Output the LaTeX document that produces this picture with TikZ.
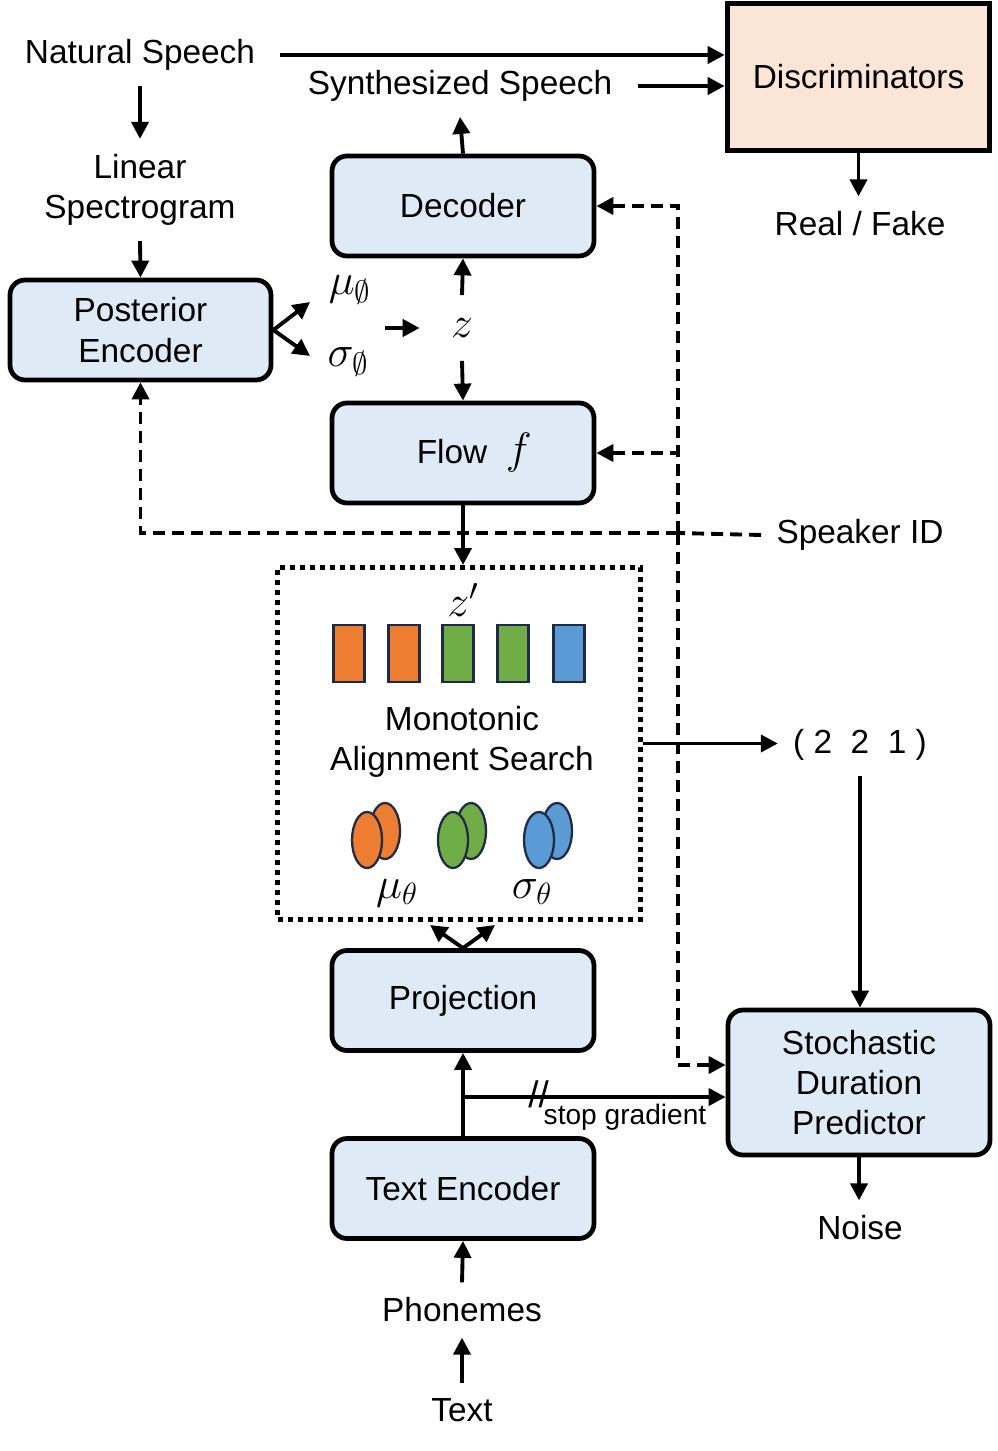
\RequirePackage{fix-cm}
\documentclass[tikz,border=0pt]{standalone}
\usepackage{amsmath,amssymb}
\usepackage{fontspec}
\setmainfont{Liberation Sans}
\usetikzlibrary{
	arrows.meta,
	calc,
	positioning,
}
\definecolor{boxblue}{HTML}{DEEBF7}
\definecolor{peach}{HTML}{FBE5D6}
\definecolor{barorange}{HTML}{ED7D31}
\definecolor{bargreen}{HTML}{70AD47}
\definecolor{barblue}{HTML}{5B9BD5}
\definecolor{barline}{HTML}{1F2A44}
\newcommand{\lbfont}{\fontsize{19}{23}\selectfont}
\newcommand{\mathfont}{\fontsize{25}{29}\selectfont}
\tikzset{
	block/.style={draw, rounded corners=0.3cm, fill=boxblue, line width=2.7pt,
		minimum width=5.24cm, minimum height=2cm, align=center, font=\lbfont},
	lbl/.style={inner sep=0.3cm, align=center, font=\lbfont},
	sym/.style={inner sep=0.3cm, font=\mathfont},
	arr/.style={-{Triangle[length=0.34cm,width=0.34cm]}, line width=2.2pt},
	darr/.style={arr, dash pattern=on 0.24cm off 0.14cm},
	dline/.style={line width=2.2pt, dash pattern=on 0.24cm off 0.14cm},
	bar/.style={draw=barline, line width=1.3pt},
}

\begin{document}
\begin{tikzpicture}
\useasboundingbox (0,0) rectangle (19.94,-29.02);

% blocks
\node(disc)[block, rounded corners=0, fill=peach, line width=3.2pt, minimum height=2.94cm] at (17.17,-1.54) {Discriminators};
\node(dec)[block] at (9.26,-4.12) {Decoder};
\node(post)[block, minimum width=5.22cm] at (2.81,-6.6) {Posterior\\Encoder};
\node(flow)[block] at (9.26,-9.06) {\hspace*{0.45cm}Flow~~{\mathfont$f$}};
\node(proj)[block] at (9.26,-20.01) {Projection};
\node(txt)[block] at (9.26,-23.77) {Text Encoder};
\node(sdp)[block, minimum height=2.9cm] at (17.18,-21.65) {Stochastic\\Duration\\Predictor};
\node(mas)[draw, line width=0.1cm, dash pattern=on 0.1cm off 0.1cm,
	minimum width=7.26cm, minimum height=7.04cm] at (9.18,-14.87) {};

% labels
\node(nat)[lbl] at (2.8,-1.1) {Natural Speech};
\node(syn)[lbl] at (9.2,-1.72) {Synthesized Speech};
\node(lin)[lbl] at (2.8,-3.8) {Linear\\Spectrogram};
\node(real)[lbl] at (17.2,-4.48) {Real / Fake};
\node(mup)[sym] at (7.0,-5.8) {$\mu_{\emptyset}$};
\node(sgp)[sym] at (6.96,-7.24) {$\sigma_{\emptyset}$};
\node(z)[sym, inner xsep=0.62cm, inner ysep=0.46cm] at (9.24,-6.56) {$z$};
\node(spk)[lbl] at (17.2,-10.7) {Speaker ID};
\node(zp)[sym] at (9.26,-12.0) {$z'$};
\node(mast)[lbl] at (9.24,-14.84) {Monotonic\\Alignment Search};
\node(mut)[sym] at (7.94,-17.86) {$\mu_{\theta}$};
\node(sgt)[sym] at (10.64,-17.84) {$\sigma_{\theta}$};
\node(dur)[lbl] at (17.2,-14.9) {(~2~~2~~1~)};
\node(noise)[lbl] at (17.2,-24.56) {Noise};
\node(phon)[lbl] at (9.24,-26.2) {Phonemes};
\node(text)[lbl] at (9.24,-28.2) {Text};
\node(stopg)[inner sep=0, font=\fontsize{16}{19}\selectfont] at (12.5,-22.34) {stop gradient};
\node(cut)[inner sep=0, font=\fontsize{21}{23}\selectfont] at (10.77,-21.88) {//};

% latent bars and gaussians
\foreach \x/\c in {6.98/barorange,8.08/barorange,9.16/bargreen,10.26/bargreen,11.38/barblue}
\draw[bar, fill=\c] (\x-0.31,-12.5) rectangle (\x+0.31,-13.64);

\foreach \x/\c in {7.34/barorange,9.06/bargreen,10.78/barblue} {
\draw[bar, fill=\c] (\x+0.36,-16.62) ellipse (0.3 and 0.56);
\draw[bar, fill=\c] (\x,-16.8) ellipse (0.3 and 0.56);
}

\coordinate(mutip) at (6.2,-6.04);
\coordinate(sgtip) at (6.2,-7.12);
\coordinate(zin) at (7.7,-6.56);
\coordinate(bus) at (13.56,-10.66);
\coordinate(split) at (9.26,-21.94);
\coordinate(lamL) at (8.6,-18.5);
\coordinate(lamR) at (9.9,-18.5);

% solid connectors
\draw[arr] ([xshift=0.2cm]nat.east) -- (nat.east -| disc.west);
\draw[arr] ([xshift=0.2cm]syn.east) -- (syn.east -| disc.west);
\draw[arr] (nat.south) -- (lin.north);
\draw[arr] (lin.south) -- (post.north);
\draw[arr] (dec.north) -- (syn.south);
\draw[arr] (disc.south) -- (disc.south |- real.north);
\draw[arr] (post.east) -- (mutip);
\draw[arr] (post.east) -- (sgtip);
\draw[arr] (zin) -- (z.west);
\draw[arr] (z.north) -- (dec.south);
\draw[arr] (z.south) -- (flow.north);
\draw[arr] (flow.south) -- (flow.south |- mas.north);
\draw[arr] (mas.east) -- (mas.east -| dur.west);
\draw[arr] (dur.south) -- (dur.south |- sdp.north);
\draw[arr] (proj.north) -- (lamL);
\draw[arr] (proj.north) -- (lamR);
\draw[arr] (txt.north) -- (proj.south);
\draw[arr] (split) -- (split -| sdp.west);
\draw[arr] (sdp.south) -- (sdp.south |- noise.north);
\draw[arr] (phon.north) -- (txt.south);
\draw[arr] (text.north) -- (phon.south);

% speaker conditioning
\draw[dline] (spk.west) -- (bus);
\draw[darr] (bus) -| (post.south);
\draw[darr] (bus) |- (dec.east);
\draw[darr] (bus) |- (flow.east);
\draw[darr] (bus) |- ([yshift=0.35cm]sdp.west);

\end{tikzpicture}
\end{document}
